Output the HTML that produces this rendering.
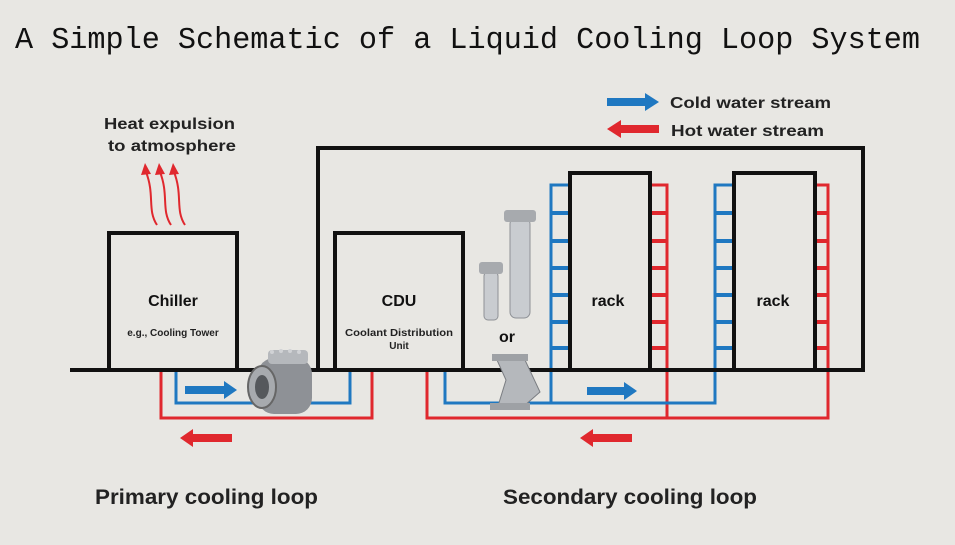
<!DOCTYPE html>
<html><head><meta charset="utf-8"><style>
html,body{margin:0;padding:0;background:#e8e7e3;}
svg{display:block;font-family:"Liberation Sans",Arial,sans-serif;}
</style></head><body>
<svg width="955" height="545" viewBox="0 0 955 545" xmlns="http://www.w3.org/2000/svg">
<rect width="955" height="545" fill="#e8e7e3"/>
<text x="15" y="48" font-family="Liberation Mono, monospace" font-size="31" textLength="905" lengthAdjust="spacingAndGlyphs" fill="#111">A Simple Schematic of a Liquid Cooling Loop System</text>

<!-- legend -->
<polygon points="607,98 645,98 645,93 659,102 645,111 645,106 607,106" fill="#1f78c1"/>
<text x="670" y="108" font-size="16" font-weight="bold" fill="#222" textLength="161" lengthAdjust="spacingAndGlyphs">Cold water stream</text>
<polygon points="659,125 621,125 621,120 607,129 621,138 621,133 659,133" fill="#e0282e"/>
<text x="671" y="136" font-size="16" font-weight="bold" fill="#222" textLength="153" lengthAdjust="spacingAndGlyphs">Hot water stream</text>

<text x="104" y="129" font-size="16" font-weight="bold" fill="#222" textLength="131" lengthAdjust="spacingAndGlyphs">Heat expulsion</text>
<text x="108" y="151" font-size="16" font-weight="bold" fill="#222" textLength="128" lengthAdjust="spacingAndGlyphs">to atmosphere</text>
<g fill="none" stroke="#e0282e" stroke-width="2">
<path d="M157,225 C147,210 155,195 146,172"/>
<path d="M171,225 C161,210 169,195 160,172"/>
<path d="M185,225 C175,210 183,195 174,172"/>
</g>
<g fill="#e0282e">
<polygon points="141,175 145,163 151,174"/>
<polygon points="155,175 159,163 165,174"/>
<polygon points="169,175 173,163 179,174"/>
</g>

<g fill="none" stroke-width="3">
<path d="M161,372 V418 H372 V372" stroke="#e0282e"/>
<path d="M176,372 V403 H350 V372" stroke="#1f78c1"/>
<path d="M427,372 V418 H828 V185 H815" stroke="#e0282e"/>
<path d="M650,185 H667 V418" stroke="#e0282e"/>
<path d="M445,372 V403 H715 V185 H734" stroke="#1f78c1"/>
<path d="M570,185 H551 V403" stroke="#1f78c1"/>
</g>
<g stroke-width="4">
<g stroke="#1f78c1">
<path d="M551,213H570M551,241H570M551,268H570M551,295H570M551,322H570M551,348H570"/>
<path d="M715,213H734M715,241H734M715,268H734M715,295H734M715,322H734M715,348H734"/>
</g>
<g stroke="#e0282e">
<path d="M650,213H667M650,241H667M650,268H667M650,295H667M650,322H667M650,348H667"/>
<path d="M815,213H828M815,241H828M815,268H828M815,295H828M815,322H828M815,348H828"/>
</g>
</g>

<g fill="none" stroke="#111" stroke-width="4">
<path d="M70,370 H865"/>
<path d="M318,370 V148 H863 V370"/>
<path d="M109,370 V233 H237 V370"/>
<path d="M335,370 V233 H463 V370"/>
<path d="M570,370 V173 H650 V370"/>
<path d="M734,370 V173 H815 V370"/>
</g>

<text x="173" y="306" font-size="16" font-weight="bold" text-anchor="middle" fill="#111">Chiller</text>
<text x="173" y="336" font-size="10" font-weight="bold" text-anchor="middle" fill="#222">e.g., Cooling Tower</text>
<text x="399" y="306" font-size="16" font-weight="bold" text-anchor="middle" fill="#111">CDU</text>
<text x="345" y="336" font-size="10" font-weight="bold" fill="#222" textLength="108" lengthAdjust="spacingAndGlyphs">Coolant Distribution</text>
<text x="399" y="349" font-size="10" font-weight="bold" text-anchor="middle" fill="#222">Unit</text>
<text x="608" y="306" font-size="16" font-weight="bold" text-anchor="middle" fill="#111">rack</text>
<text x="773" y="306" font-size="16" font-weight="bold" text-anchor="middle" fill="#111">rack</text>
<text x="507" y="342" font-size="16" font-weight="bold" text-anchor="middle" fill="#111">or</text>

<polygon points="185,386 224,386 224,381 237,390 224,399 224,394 185,394" fill="#1f78c1"/>
<polygon points="232,434 193,434 193,429 180,438 193,447 193,442 232,442" fill="#e0282e"/>
<polygon points="587,387 624,387 624,382 637,391 624,400 624,395 587,395" fill="#1f78c1"/>
<polygon points="632,434 593,434 593,429 580,438 593,447 593,442 632,442" fill="#e0282e"/>

<!-- pump -->
<g>
<rect x="258" y="358" width="54" height="56" rx="16" fill="#8e9196"/>
<rect x="268" y="350" width="40" height="14" rx="4" fill="#b5b8bc"/>
<g fill="#d0d2d5"><circle cx="272" cy="352" r="2"/><circle cx="281" cy="351" r="2"/><circle cx="290" cy="351" r="2"/><circle cx="299" cy="352" r="2"/></g>
<ellipse cx="262" cy="387" rx="14" ry="21" fill="#a7aaae" stroke="#666" stroke-width="2"/>
<ellipse cx="262" cy="387" rx="7" ry="12" fill="#55585c"/>
</g>
<!-- filters -->
<g>
<rect x="510" y="218" width="20" height="100" rx="6" fill="#c9ccd0" stroke="#8e9196"/>
<rect x="504" y="210" width="32" height="12" rx="3" fill="#a7aaae"/>
<rect x="484" y="272" width="14" height="48" rx="4" fill="#c9ccd0" stroke="#8e9196"/>
<rect x="479" y="262" width="24" height="12" rx="3" fill="#a7aaae"/>
<path d="M497,360 L525,360 L540,392 L524,406 L498,406 L506,380 Z" fill="#b5b8bc" stroke="#7a7d82"/>
<rect x="492" y="354" width="36" height="7" fill="#9ea1a5"/>
<rect x="490" y="403" width="40" height="7" fill="#9ea1a5"/>
</g>

<text x="95" y="504" font-size="21" font-weight="bold" fill="#222" textLength="223" lengthAdjust="spacingAndGlyphs">Primary cooling loop</text>
<text x="503" y="504" font-size="21" font-weight="bold" fill="#222" textLength="254" lengthAdjust="spacingAndGlyphs">Secondary cooling loop</text>
</svg>
</body></html>
